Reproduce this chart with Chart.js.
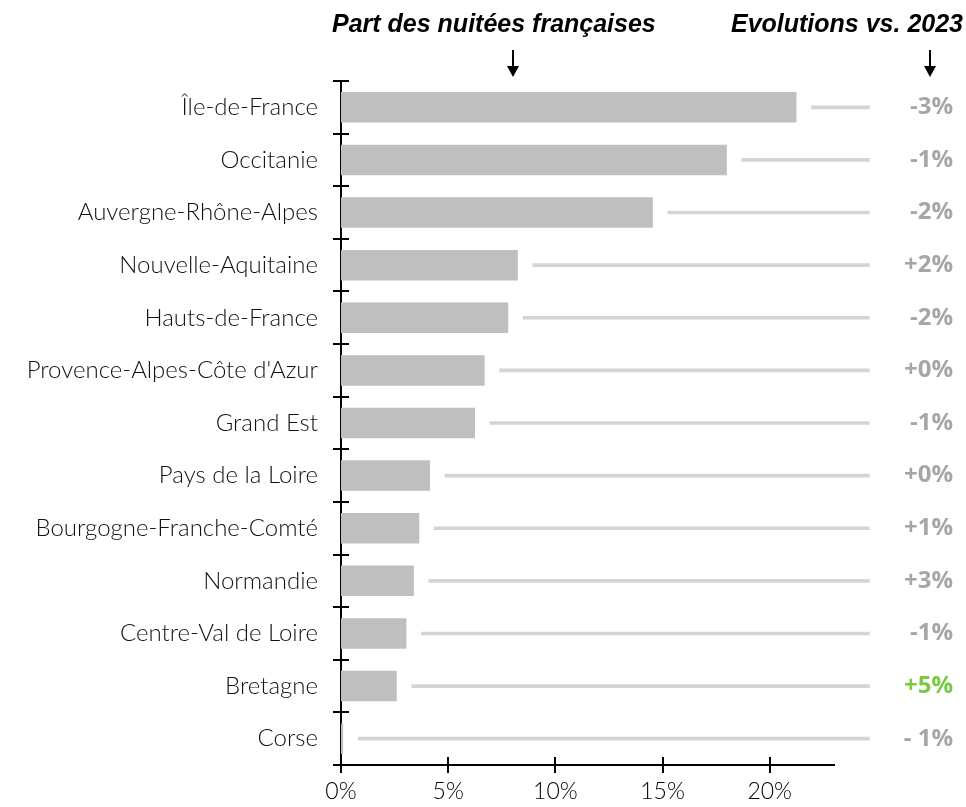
<!DOCTYPE html>
<html>
<head>
<meta charset="utf-8">
<script src="https://cdn.jsdelivr.net/npm/chart.js@4"></script>
<style>
  html, body { margin: 0; padding: 0; background: #fff; }
  #wrap { width: 966px; height: 807px; }
</style>
</head>
<body>
<div id="wrap"><canvas id="graficaRegions"></canvas></div>
<script>
// Régions (ordre du graphique)
const regions = [
  "Île-de-France", "Occitanie", "Auvergne-Rhône-Alpes", "Nouvelle-Aquitaine",
  "Hauts-de-France", "Provence-Alpes-Côte d'Azur", "Grand Est", "Pays de la Loire",
  "Bourgogne-Franche-Comté", "Normandie", "Centre-Val de Loire", "Bretagne", "Corse"
];
// Part des nuitées françaises (%)
const partNuitees = [21.25, 18.0, 14.55, 8.25, 7.8, 6.7, 6.25, 4.15, 3.65, 3.4, 3.05, 2.6, 0.1];
// Evolutions vs. 2023
const evolutions = ["-3%", "-1%", "-2%", "+2%", "-2%", "+0%", "-1%", "+0%", "+1%", "+3%", "-1%", "+5%", "- 1%"];
const xTicks = [0, 5, 10, 15, 20];
const xMax = 23;
const lineEnd = 24.65;   // fin des lignes grises
const lineGap = 0.7;     // espace entre barre et ligne

const GRIS = "#bfbfbf";
const GRIS_LIGNE = "#d4d4d4";
const GRIS_TEXTE = "#a6a6a6";
const VERT = "#7ac943";

// Lignes grises : barres flottantes fines
const lignes = partNuitees.map(v => [v + lineGap, lineEnd]);

// Plugin pour les ticks en croix, les titres et les évolutions
const annotations = {
  id: 'annotations',
  afterDraw(chart) {
    const ctx = chart.ctx;
    const x = chart.scales.x;
    const y = chart.scales.y;
    const area = chart.chartArea;
    ctx.save();
    ctx.strokeStyle = "#000";
    ctx.lineWidth = 2;
    // ticks axe X
    xTicks.forEach(t => {
      const px = Math.round(x.getPixelForValue(t));
      ctx.beginPath();
      ctx.moveTo(px, area.bottom - 8);
      ctx.lineTo(px, area.bottom + 8);
      ctx.stroke();
    });
    // ticks axe Y (limites des catégories)
    for (let i = 0; i <= regions.length; i++) {
      const py = Math.round(y.getPixelForValue(i - 0.5));
      ctx.beginPath();
      ctx.moveTo(area.left - 8, py);
      ctx.lineTo(area.left + 8, py);
      ctx.stroke();
    }
    // évolutions
    ctx.font = "bold 24px 'Open Sans'";
    ctx.textAlign = "right";
    ctx.textBaseline = "middle";
    evolutions.forEach((txt, i) => {
      ctx.fillStyle = txt === "+5%" ? VERT : GRIS_TEXTE;
      ctx.fillText(txt, 953, y.getPixelForValue(i));
    });
    // titres
    ctx.fillStyle = "#000";
    ctx.font = "italic bold 25px 'Liberation Sans'";
    ctx.textBaseline = "middle";
    ctx.textAlign = "left";
    ctx.fillText("Part des nuitées françaises", 332, 25);
    ctx.textAlign = "right";
    ctx.fillText("Evolutions vs. 2023", 963, 25);
    // flèches
    [513, 930].forEach(ax => {
      ctx.beginPath();
      ctx.moveTo(ax, 50);
      ctx.lineTo(ax, 68);
      ctx.stroke();
      ctx.beginPath();
      ctx.moveTo(ax - 6, 66);
      ctx.lineTo(ax + 6, 66);
      ctx.lineTo(ax, 77);
      ctx.closePath();
      ctx.fill();
    });
    ctx.restore();
  }
};

const ctx = document.getElementById('graficaRegions').getContext('2d');
window.graficaInstance = new Chart(ctx, {
  type: 'bar',
  data: {
    labels: regions,
    datasets: [
      {
        label: 'Part des nuitées françaises',
        data: partNuitees,
        backgroundColor: GRIS,
        borderWidth: 0,
        barPercentage: 0.58,
        categoryPercentage: 1.0,
        grouped: false,
        order: 1
      },
      {
        label: 'lignes',
        data: lignes,
        backgroundColor: GRIS_LIGNE,
        borderWidth: 0,
        barThickness: 3,
        grouped: false,
        clip: false,
        order: 2
      }
    ]
  },
  options: {
    indexAxis: 'y',
    responsive: true,
    maintainAspectRatio: false,
    animation: false,
    layout: { padding: { top: 81, right: 132, left: 0, bottom: 0 } },
    plugins: {
      legend: { display: false },
      tooltip: { enabled: false }
    },
    scales: {
      x: {
        min: 0,
        max: xMax,
        afterBuildTicks: s => { s.ticks = xTicks.map(v => ({ value: v })); },
        afterFit: s => { s.height = 42; },
        grid: { display: false },
        border: { display: true, color: "#000", width: 2 },
        ticks: {
          color: "#000",
          font: { family: "Lato", size: 23, weight: 300 },
          padding: 5,
          callback: v => v + "%"
        }
      },
      y: {
        afterFit: s => { s.width = 341; },
        grid: { display: false },
        border: { display: true, color: "#000", width: 2 },
        ticks: {
          color: "#111",
          font: { family: "Lato", size: 24, weight: 300 },
          padding: 15
        }
      }
    }
  },
  plugins: [annotations]
});
</script>
</body>
</html>
